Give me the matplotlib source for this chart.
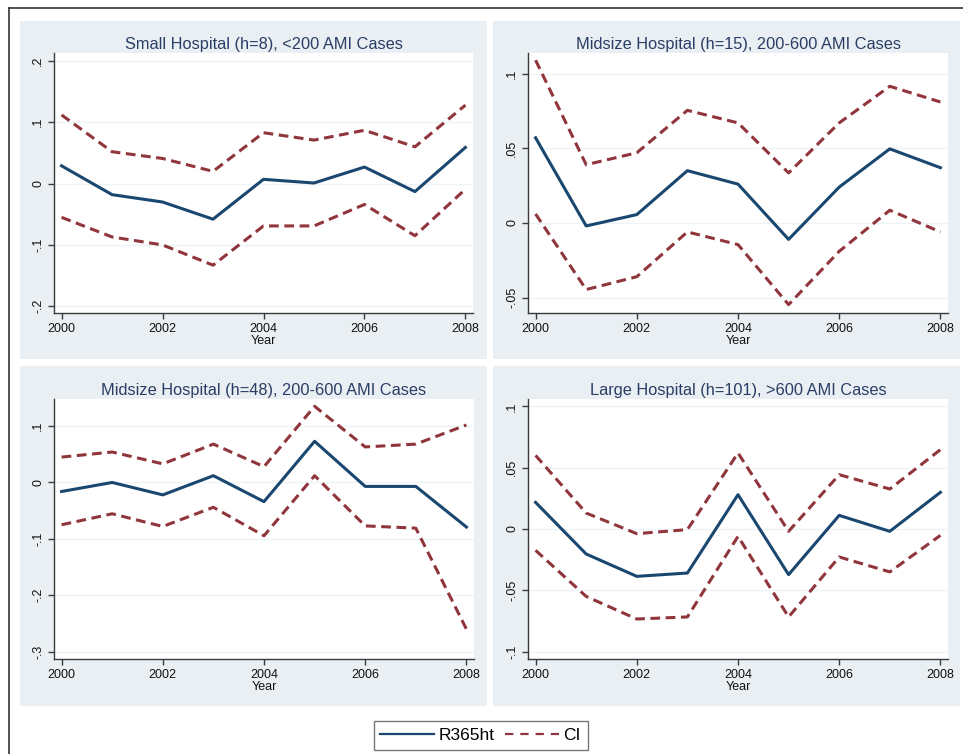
import matplotlib
matplotlib.use("Agg")
import matplotlib.pyplot as plt
from matplotlib.patches import Rectangle
from matplotlib.lines import Line2D
from matplotlib.ticker import FixedLocator

plt.rcParams['font.family'] = ['Liberation Sans', 'DejaVu Sans']
plt.rcParams['lines.scale_dashes'] = False

years = [2000, 2001, 2002, 2003, 2004, 2005, 2006, 2007, 2008]
xticks = [2000, 2002, 2004, 2006, 2008]

titles = [
    "Small Hospital (h=8), <200 AMI Cases",
    "Midsize Hospital (h=15), 200-600 AMI Cases",
    "Midsize Hospital (h=48), 200-600 AMI Cases",
    "Large Hospital (h=101), >600 AMI Cases",
]

# Small hospital (h=8)
small_est = [0.029, -0.018, -0.030, -0.058, 0.007, 0.001, 0.027, -0.013, 0.059]
small_hi = [0.112, 0.052, 0.041, 0.020, 0.083, 0.071, 0.087, 0.060, 0.128]
small_lo = [-0.055, -0.087, -0.100, -0.133, -0.069, -0.069, -0.034, -0.085, -0.009]

# Midsize hospital (h=15)
mid15_est = [0.057, -0.002, 0.0056, 0.035, 0.026, -0.011, 0.024, 0.0496, 0.037]
mid15_hi = [0.109, 0.039, 0.047, 0.0754, 0.067, 0.0335, 0.067, 0.0915, 0.081]
mid15_lo = [0.006, -0.0446, -0.036, -0.006, -0.0145, -0.0547, -0.019, 0.0085, -0.006]

# Midsize hospital (h=48)
mid48_est = [-0.016, 0.0, -0.022, 0.012, -0.034, 0.073, -0.007, -0.007, -0.079]
mid48_hi = [0.045, 0.054, 0.033, 0.068, 0.028, 0.135, 0.063, 0.068, 0.102]
mid48_lo = [-0.075, -0.0555, -0.078, -0.044, -0.0945, 0.012, -0.077, -0.081, -0.260]

# Large hospital (h=101)
large_est = [0.0217, -0.0204, -0.0386, -0.0359, 0.028, -0.0372, 0.0111, -0.0019, 0.0299]
large_hi = [0.060, 0.013, -0.0038, -0.0005, 0.062, -0.0019, 0.0443, 0.0326, 0.0647]
large_lo = [-0.0174, -0.055, -0.0734, -0.0717, -0.006, -0.0717, -0.0228, -0.035, -0.0052]

yticks_list = [
    [-0.2, -0.1, 0.0, 0.1, 0.2],
    [-0.05, 0.0, 0.05, 0.1],
    [-0.3, -0.2, -0.1, 0.0, 0.1],
    [-0.1, -0.05, 0.0, 0.05, 0.1],
]
yticklabels_list = [
    ["-.2", "-.1", "0", ".1", ".2"],
    ["-.05", "0", ".05", ".1"],
    ["-.3", "-.2", "-.1", "0", ".1"],
    ["-.1", "-.05", "0", ".05", ".1"],
]
ylims = [(-0.211, 0.213), (-0.0603, 0.1138), (-0.313, 0.148), (-0.106, 0.106)]

series = [
    (small_est, small_hi, small_lo),
    (mid15_est, mid15_hi, mid15_lo),
    (mid48_est, mid48_hi, mid48_lo),
    (large_est, large_hi, large_lo),
]

W, H = 963, 754
NAVY = '#1a476f'
TITLE = '#2a3d66'
MAROON = '#90353b'
BG = '#e9eff2'

fig = plt.figure(figsize=(W / 100, H / 100), dpi=100)
fig.patch.set_facecolor('white')

def frac(x, y, w, h):
    return [x / W, 1 - (y + h) / H, w / W, h / H]

# panel backgrounds (drawn in a background axes)
bgax = fig.add_axes([0, 0, 1, 1], zorder=-10)
bgax.set_axis_off()
bgax.set_xlim(0, W)
bgax.set_ylim(H, 0)
panels = [(20, 21, 467, 338), (493, 21, 467, 338), (20, 366, 467, 340), (493, 366, 467, 340)]
for (x, y, w, h) in panels:
    bgax.add_patch(Rectangle((x, y), w, h, facecolor=BG, edgecolor='none'))
# outer frame
bgax.plot([9, 9], [8, H], color='#333333', lw=1.2)
bgax.plot([9, W], [8, 8], color='#333333', lw=1.2)

axrects = [(54, 53, 419, 260), (528, 53, 420, 260), (54, 399, 420, 260), (528, 399, 420, 260)]

handles = None
for i, rect in enumerate(axrects):
    ax = fig.add_axes(frac(*rect))
    ax.set_facecolor('white')
    est, hi, lo = series[i]
    ax.plot(years, hi, color=MAROON, lw=2.2, dashes=(7, 4), zorder=3)
    ax.plot(years, lo, color=MAROON, lw=2.2, dashes=(7, 4), zorder=3)
    l1, = ax.plot(years, est, color=NAVY, lw=2.2, zorder=4)
    ax.set_xlim(1999.85, 2008.15)
    ax.set_ylim(*ylims[i])
    ax.xaxis.set_major_locator(FixedLocator(xticks))
    ax.set_xticklabels([str(t) for t in xticks])
    ax.yaxis.set_major_locator(FixedLocator(yticks_list[i]))
    ax.set_yticklabels(yticklabels_list[i], rotation=90, va='center')
    ax.grid(axis='y', color='#eef3f5', lw=1.0, zorder=0)
    ax.set_axisbelow(True)
    for s in ['top', 'right']:
        ax.spines[s].set_visible(False)
    for s in ['left', 'bottom']:
        ax.spines[s].set_color('#3a3a3a')
        ax.spines[s].set_linewidth(1.0)
    ax.tick_params(axis='both', direction='out', length=4, width=1.0, color='#3a3a3a',
                   labelsize=9, labelcolor='#111111', pad=3)
    ax.set_xlabel('Year', fontsize=9, labelpad=0, color='#111111')
    ax.set_title(titles[i], fontsize=11.8, color=TITLE, pad=3)
    if handles is None:
        handles = [Line2D([], [], color=NAVY, lw=1.6),
                   Line2D([], [], color=MAROON, lw=1.6, dashes=(6, 5))]

leg = fig.legend(handles, ['R365ht', 'CI'], loc='center',
                 bbox_to_anchor=(480.5 / W, 1 - 735.5 / H), ncol=2,
                 fontsize=12.5, frameon=True, fancybox=False, handlelength=3.1,
                 handletextpad=0.25, columnspacing=0.6, borderpad=0.4,
                 borderaxespad=0)
leg.get_frame().set_edgecolor('#555555')
leg.get_frame().set_linewidth(1.0)

fig.savefig('out.png', dpi=100, facecolor='white')
